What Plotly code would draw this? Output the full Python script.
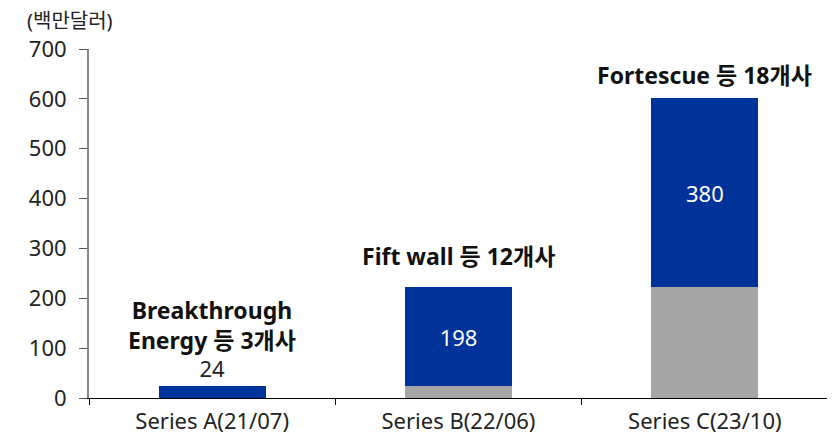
import plotly.graph_objects as go

categories = ["Series A(21/07)", "Series B(22/06)", "Series C(23/10)"]
prior_values = [0, 24, 222]
new_values = [24, 198, 380]
group_labels = ["Breakthrough<br>Energy 등 3개사", "Fift wall 등 12개사", "Fortescue 등 18개사"]
label_shift = [61, 31, 23]
y_ticks = [0, 100, 200, 300, 400, 500, 600, 700]

FONT = "Noto Sans, Noto Sans CJK KR"
BLUE = "#003399"
GRAY = "#A6A6A6"
TS = 22

fig = go.Figure()
fig.add_trace(go.Bar(x=categories, y=prior_values, marker_color=GRAY, width=0.435,
                     marker_line_width=0, hoverinfo="skip"))
fig.add_trace(go.Bar(x=categories, y=new_values, marker_color=BLUE, width=0.435,
                     marker_line_width=0,
                     text=[str(v) for v in new_values],
                     textposition=["outside", "inside", "inside"],
                     insidetextanchor="middle",
                     insidetextfont=dict(color="white", size=TS, family=FONT),
                     outsidetextfont=dict(color="#222222", size=TS, family=FONT),
                     textangle=0, cliponaxis=False))

totals = [p + n for p, n in zip(prior_values, new_values)]
for c, t, lab, s in zip(categories, totals, group_labels, label_shift):
    fig.add_annotation(x=c, y=t, text="<b>" + lab + "</b>", showarrow=False,
                       yshift=s, yanchor="middle",
                       font=dict(family=FONT, size=23, color="#111111"))

fig.add_annotation(xref="paper", yref="paper", x=-0.0866, y=1.083, xanchor="left",
                   yanchor="middle", text="(백만달러)", showarrow=False,
                   font=dict(family=FONT, size=20, color="#222222"))

fig.update_layout(
    barmode="stack", showlegend=False, width=827, height=428,
    margin=dict(l=81, r=7, t=41, b=38),
    plot_bgcolor="white", paper_bgcolor="white",
    font=dict(family=FONT, size=TS, color="#222222"),
)
fig.update_xaxes(showline=True, linecolor="black", linewidth=1, ticks="outside",
                 tickson="boundaries", ticklen=6, tickcolor="black", showgrid=False,
                 tickfont=dict(size=TS), ticklabelstandoff=4, automargin=False)
fig.update_yaxes(range=[0, 700], tickvals=y_ticks, showline=True, linecolor="#888888",
                 linewidth=2, ticks="outside", ticklen=8, tickcolor="#555555",
                 showgrid=False, zeroline=False, tickfont=dict(size=TS),
                 ticklabelstandoff=8, automargin=False)

fig.write_html("out.html")
